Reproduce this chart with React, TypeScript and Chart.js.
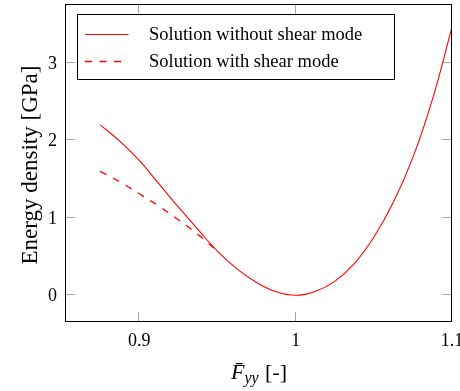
import React, { useEffect, useRef } from "react";
import { Chart, registerables } from "chart.js";

Chart.register(...registerables);

// ---- data ----
const xValues = [0.875, 0.8875, 0.9, 0.9125, 0.925, 0.9375, 0.95, 0.9625, 0.975, 0.9875, 1.0, 1.0125, 1.025, 1.0375, 1.05, 1.0625, 1.075, 1.0875, 1.1];
const withoutShear = [2.2, 1.99, 1.74, 1.44, 1.14, 0.85, 0.57, 0.34, 0.165, 0.045, 0.0, 0.05, 0.18, 0.41, 0.75, 1.2, 1.78, 2.53, 3.46];
const shearX = [0.875, 0.8875, 0.9, 0.9125, 0.925, 0.9375, 0.95];
const withShear = [1.6, 1.465, 1.31, 1.15, 0.975, 0.785, 0.57];
const xTicks = [0.9, 1.0, 1.1];
const yTicks = [0, 1, 2, 3];
const seriesLabels = ["Solution without shear mode", "Solution with shear mode"];
const yTitle = "Energy density [GPa]";

const LINE_COLOR = "#ff0000";
const SERIF = '"Liberation Serif", "DejaVu Serif", serif';

const decorPlugin = {
  id: "decor",
  beforeDatasetsDraw(chart: any) {
    const { ctx, chartArea: a, scales } = chart;
    ctx.save();
    ctx.strokeStyle = "#a6a6a6";
    ctx.lineWidth = 1;
    const L = 10;
    ctx.beginPath();
    for (const v of xTicks) {
      const px = Math.round(scales.x.getPixelForValue(v)) - 0.5;
      ctx.moveTo(px, a.bottom);
      ctx.lineTo(px, a.bottom - L);
      ctx.moveTo(px, a.top);
      ctx.lineTo(px, a.top + L);
    }
    for (const v of yTicks) {
      const py = Math.round(scales.y.getPixelForValue(v)) - 0.5;
      ctx.moveTo(a.left, py);
      ctx.lineTo(a.left + L, py);
      ctx.moveTo(a.right, py);
      ctx.lineTo(a.right - L, py);
    }
    ctx.stroke();
    ctx.restore();
  },
  afterDatasetsDraw(chart: any) {
    const { ctx, chartArea: a } = chart;
    ctx.save();
    // legend
    const bx = a.left + 12.5, by = a.top + 10.5, bw = 317, bh = 65;
    ctx.fillStyle = "#fff";
    ctx.fillRect(bx, by, bw, bh);
    ctx.strokeStyle = "#000";
    ctx.lineWidth = 1;
    ctx.strokeRect(bx, by, bw, bh);
    const rows = [Math.round(by + 19) + 0.5, Math.round(by + 46.5) + 0.5];
    chart.data.datasets.forEach((ds: any, i: number) => {
      ctx.save();
      ctx.beginPath();
      ctx.strokeStyle = LINE_COLOR;
      ctx.lineWidth = i === 0 ? 1 : 1.3;
      ctx.setLineDash(ds.borderDash || []);
      ctx.moveTo(bx + 7.5, rows[i]);
      ctx.lineTo(bx + 51, rows[i]);
      ctx.stroke();
      ctx.restore();
      ctx.fillStyle = "#000";
      ctx.font = `18.5px ${SERIF}`;
      ctx.textBaseline = "middle";
      ctx.textAlign = "left";
      ctx.fillText(ds.label, bx + 71.5, rows[i] + 1);
    });
    // border
    ctx.strokeStyle = "#000";
    ctx.lineWidth = 1;
    ctx.strokeRect(a.left + 0.5, a.top + 0.5, a.right - a.left - 1, a.bottom - a.top - 1);

    // y title
    ctx.save();
    ctx.translate(37, (a.top + a.bottom) / 2 + 2);
    ctx.rotate(-Math.PI / 2);
    ctx.font = `23px ${SERIF}`;
    ctx.textAlign = "center";
    ctx.textBaseline = "alphabetic";
    ctx.fillStyle = "#000";
    ctx.fillText(yTitle, 0, 0);
    ctx.restore();

    // x title: F̄_yy [-]
    const base = 379;
    const p1 = "F\u0304";
    const p2 = "yy";
    const p3 = " [-]";
    const f1 = `italic 22px ${SERIF}`;
    const f2 = `italic 16px ${SERIF}`;
    const f3 = `22px ${SERIF}`;
    ctx.font = f1; const w1 = ctx.measureText(p1).width;
    ctx.font = f2; const w2 = ctx.measureText(p2).width;
    ctx.font = f3; const w3 = ctx.measureText(p3).width;
    let x0 = (a.left + a.right) / 2 - (w1 + w2 + w3) / 2;
    ctx.textAlign = "left";
    ctx.textBaseline = "alphabetic";
    ctx.fillStyle = "#000";
    ctx.font = f1; ctx.fillText(p1, x0, base); x0 += w1;
    ctx.font = f2; ctx.fillText(p2, x0, base + 4); x0 += w2 + 1;
    ctx.font = f3; ctx.fillText(p3, x0, base);
    ctx.restore();
  },
};

const noPad = (s: any) => {
  s.paddingTop = 0;
  s.paddingBottom = 0;
  s.paddingLeft = 0;
  s.paddingRight = 0;
};

export default function App() {
  const ref = useRef<HTMLCanvasElement | null>(null);
  useEffect(() => {
    if (!ref.current) return;
    const chart = new Chart(ref.current, {
      type: "line",
      data: {
        datasets: [
          {
            label: seriesLabels[0],
            data: xValues.map((x, i) => ({ x, y: withoutShear[i] })),
            borderColor: LINE_COLOR,
            borderWidth: 1.1,
            pointRadius: 0,
            tension: 0.4,
            fill: false,
          },
          {
            label: seriesLabels[1],
            data: shearX.map((x, i) => ({ x, y: withShear[i] })),
            borderColor: LINE_COLOR,
            borderWidth: 1.3,
            borderDash: [7, 7.5],
            pointRadius: 0,
            tension: 0.4,
            fill: false,
          },
        ],
      },
      options: {
        animation: false,
        responsive: false,
        events: [],
        layout: { padding: { top: 4, right: 8, left: 0, bottom: 0 } },
        plugins: { legend: { display: false }, tooltip: { enabled: false } },
        scales: {
          x: {
            type: "linear",
            min: 0.8525,
            max: 1.1,
            grid: { display: false, drawTicks: false },
            border: { display: false },
            afterBuildTicks: (s: any) => { s.ticks = xTicks.map((v) => ({ value: v })); },
            afterFit: (s: any) => { s.height = 69; noPad(s); },
            ticks: {
              padding: 8,
              color: "#000",
              font: { family: SERIF, size: 18 },
              callback: (v: any) => String(v),
            },
          },
          y: {
            type: "linear",
            min: -0.345,
            max: 3.76,
            grid: { display: false, drawTicks: false },
            border: { display: false },
            afterBuildTicks: (s: any) => { s.ticks = yTicks.map((v) => ({ value: v })); },
            afterFit: (s: any) => { s.width = 65; noPad(s); },
            ticks: {
              padding: 8,
              labelOffset: 1,
              color: "#000",
              font: { family: SERIF, size: 18 },
              callback: (v: any) => String(v),
            },
          },
        },
      },
      plugins: [decorPlugin],
    });
    return () => chart.destroy();
  }, []);
  return (
    <div style={{ position: "absolute", left: 0, top: 0, width: 460, height: 391, background: "#fff" }}>
      <canvas ref={ref} width={460} height={391} style={{ display: "block" }} />
    </div>
  );
}
